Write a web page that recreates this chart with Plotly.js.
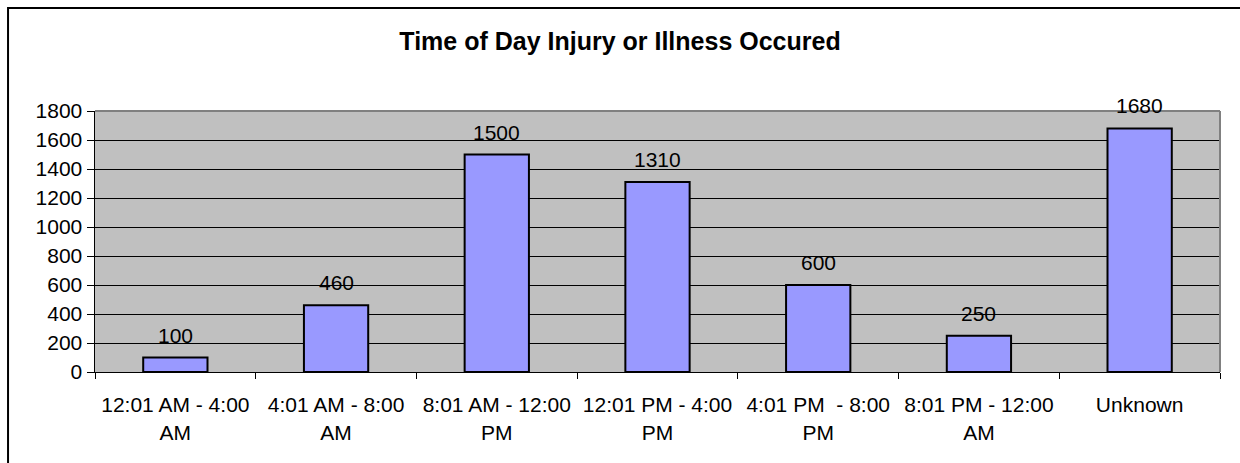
<!DOCTYPE html>
<html>
<head>
<meta charset="utf-8">
<script src="https://cdn.plot.ly/plotly-3.0.1.min.js"></script>
<style>
html,body{margin:0;padding:0;background:#fff;}
#chart{width:1240px;height:463px;}
</style>
</head>
<body>
<div id="chart"></div>
<script>
const categories = [
  "12:01 AM - 4:00<br>AM",
  "4:01 AM - 8:00<br>AM",
  "8:01 AM - 12:00<br>PM",
  "12:01 PM - 4:00<br>PM",
  "4:01 PM \u00a0- 8:00<br>PM",
  "8:01 PM - 12:00<br>AM",
  "Unknown"
];
const counts = [100, 460, 1500, 1310, 600, 250, 1680];
const yTicks = [0, 200, 400, 600, 800, 1000, 1200, 1400, 1600, 1800];

const font = {family: "Liberation Sans, Arial, sans-serif", size: 21, color: "#000"};

const trace = {
  type: "bar",
  x: categories,
  y: counts,
  width: 0.4,
  marker: {color: "#9999FF", line: {color: "#000", width: 2}},
  hoverinfo: "none"
};

const annotations = categories.map((c, i) => ({
  x: c, y: counts[i], xref: "x", yref: "y",
  text: String(counts[i]), showarrow: false,
  yanchor: "bottom", yshift: 9,
  font: font
}));

const layout = {
  width: 1240, height: 463,
  margin: {l: 95, r: 20, t: 111, b: 91},
  paper_bgcolor: "#fff",
  plot_bgcolor: "#C0C0C0",
  font: font,
  showlegend: false,
  title: {text: "<b>Time of Day Injury or Illness Occured</b>", font: {family: "Liberation Sans, Arial, sans-serif", size: 25, color: "#000"}, x: 0.5, xanchor: "center", y: 0.91, yanchor: "middle"},
  xaxis: {
    type: "category",
    tickson: "boundaries",
    ticks: "outside", ticklen: 6, tickcolor: "#000", tickwidth: 1,
    showline: true, linecolor: "#000", linewidth: 1,
    showgrid: false, zeroline: false,
    tickfont: font,
    ticklabelstandoff: 14,
    automargin: false
  },
  yaxis: {
    range: [0, 1800],
    tickvals: yTicks,
    ticktext: yTicks.map(String),
    ticks: "outside", ticklen: 7, tickcolor: "#000", tickwidth: 1,
    showline: true, linecolor: "#000", linewidth: 1.5,
    showgrid: true, gridcolor: "#000", gridwidth: 1,
    zeroline: false,
    tickfont: font,
    automargin: false
  },
  annotations: annotations,
  shapes: [
    {type: "line", xref: "paper", yref: "paper", x0: 0, x1: 1, y0: 1, y1: 1, line: {color: "#808080", width: 2}},
    {type: "line", xref: "paper", yref: "paper", x0: 1, x1: 1, y0: 0, y1: 1, line: {color: "#808080", width: 2}},
    {type: "rect", xref: "paper", yref: "paper", x0: -0.0773, x1: 1.5, y0: -1, y1: 1.395, line: {color: "#000", width: 2}}
  ]
};

Plotly.newPlot("chart", [trace], layout, {displayModeBar: false, staticPlot: true});
</script>
</body>
</html>
